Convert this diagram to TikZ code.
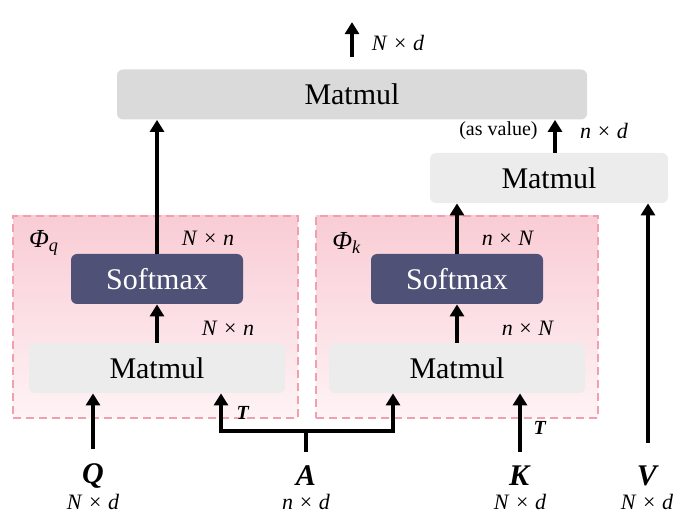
\documentclass[tikz,border=0pt]{standalone}
\usepackage{fontspec}
\setmainfont{Liberation Serif}
\usepackage{tikz}
\usetikzlibrary{arrows.meta,positioning,calc}

\definecolor{mmgray}{RGB}{218,218,218}
\definecolor{mmlight}{RGB}{236,236,236}
\definecolor{smblue}{RGB}{79,82,118}
\definecolor{phitop}{RGB}{249,204,213}
\definecolor{phibot}{RGB}{254,243,245}
\definecolor{phiedge}{RGB}{240,160,175}

% matrix sizes and bold symbols
\newcommand{\msize}[2]{\textit{#1}\hspace{0.3em}×\hspace{0.3em}\textit{#2}}
\newcommand{\bsym}[1]{\textbf{\textit{#1}}}

\begin{document}
\begin{tikzpicture}[x=0.5pt, y=-0.5pt, font=\fontsize{15}{18}\selectfont,
    box/.style={rounded corners=3pt, minimum height=25pt, inner sep=0pt},
    phibox/.style={draw=phiedge, dash pattern=on 4pt off 2.5pt, line width=0.8pt,
      top color=phitop, bottom color=phibot, inner sep=0pt},
    arr/.style={-{Triangle[width=7pt,length=6pt]}, line width=1.6pt},
    dim/.style={font=\fontsize{11}{13}\selectfont, inner sep=1pt},
    inp/.style={font=\fontsize{15}{17}\selectfont, inner xsep=2pt, inner ysep=7pt}]
  \useasboundingbox (0,0) rectangle (675,513);

  % the two dashed groups
  \node[phibox, minimum width=142.5pt, minimum height=101pt] (phiq) at (155.5,317) {};
  \node[phibox, minimum width=141pt, minimum height=101pt] (phik) at (457,317) {};
  \node[font=\fontsize{13}{15}\selectfont] (phiqlbl) at (44,243) {\textit{Φ}\textsubscript{\textit{q}}};
  \node[font=\fontsize{13}{15}\selectfont] (phiklbl) at (347,243) {\textit{Φ}\textsubscript{\textit{k}}};

  % blocks
  \node[box, fill=mmgray, minimum width=235pt] (top) at (352,94.5) {Matmul};
  \node[box, fill=mmlight, minimum width=119pt] (val) at (549,178) {Matmul};
  \node[box, fill=smblue, text=white, minimum width=86pt] (smq) at (157,279) {Softmax};
  \node[box, fill=smblue, text=white, minimum width=86pt] (smk) at (457,279) {Softmax};
  \node[box, fill=mmlight, minimum width=128pt] (mmq) at (157,368) {Matmul};
  \node[box, fill=mmlight, minimum width=128pt] (mmk) at (457,368) {Matmul};

  % inputs
  \node[inp] (q) at (93,476) {\bsym{Q}};
  \node[inp] (a) at (306,476) {\bsym{A}};
  \node[inp] (k) at (520,476) {\bsym{K}};
  \node[inp] (v) at (648,476) {\bsym{V}};
  \node[dim] (qdim) at (93,502) {\msize{N}{d}};
  \node[dim] (adim) at (306,502) {\msize{n}{d}};
  \node[dim] (kdim) at (520,502) {\msize{N}{d}};
  \node[dim] (vdim) at (647,502) {\msize{N}{d}};

  % connectors
  \coordinate (split) at (306,431);
  \draw[arr] (q) -- (q |- mmq.south);
  \draw[line width=1.6pt] (a) -- (split);
  \draw[arr] (split) -| ($(mmq.south)+(64,0)$);
  \draw[arr] (split) -| ($(mmk.south)+(-64,0)$);
  \draw[arr] (k) -- (k |- mmk.south);
  \draw[arr, shorten <=4.5pt] (v) -- (v |- val.south);
  \draw[arr] (mmq) -- (smq);
  \draw[arr] (mmk) -- (smk);
  \draw[arr] (smq) -- (smq |- top.south);
  \draw[arr] (smk) -- (smk |- val.south);
  \draw[arr] ([xshift=3pt]val.north) -- ([xshift=3pt]val.north |- top.south);
  \draw[arr] ([yshift=6pt]top.north) -- ++(0,-35);

  % sizes
  \node[dim, font=\fontsize{10}{12}\selectfont] (tlq) at (243,413) {\bsym{T}};
  \node[dim, font=\fontsize{10}{12}\selectfont] (tlk) at (540,428) {\bsym{T}};
  \node[dim] (dmq) at (228,328) {\msize{N}{n}};
  \node[dim] (dsq) at (208,238) {\msize{N}{n}};
  \node[dim] (dmk) at (528,328) {\msize{n}{N}};
  \node[dim] (dsk) at (508,238) {\msize{n}{N}};
  \node[dim] (dval) at (604,131) {\msize{n}{d}};
  \node[dim, font=\fontsize{10}{12}\selectfont, anchor=east] (asval) at (540,131) {(as value)};
  \node[dim] (dout) at (398,43) {\msize{N}{d}};
\end{tikzpicture}
\end{document}
